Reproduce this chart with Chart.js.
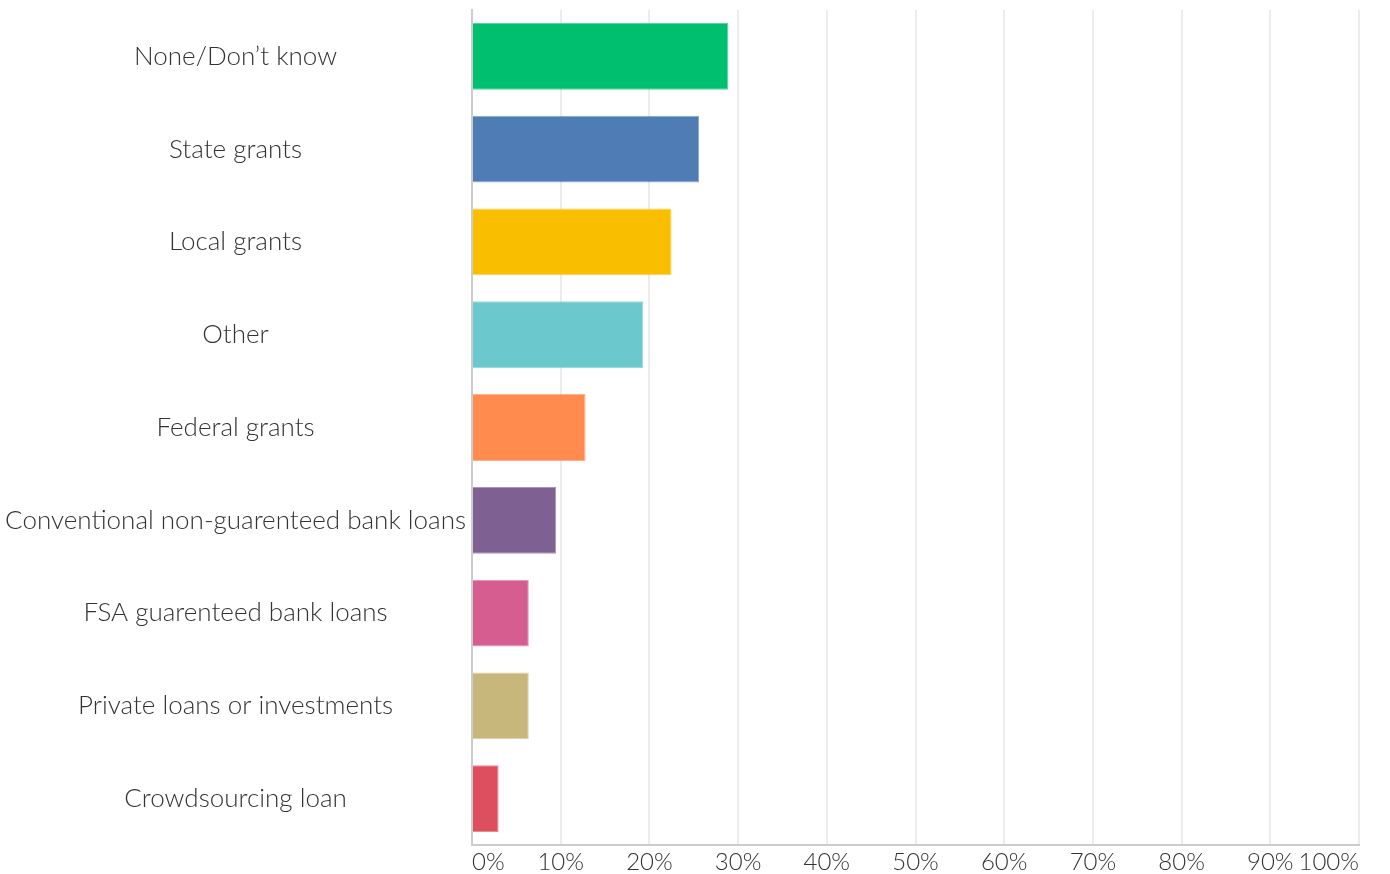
<!DOCTYPE html>
<html>
<head>
<meta charset="utf-8">
<script src="https://cdn.jsdelivr.net/npm/chart.js@4/dist/chart.umd.min.js"></script>
<style>
  html, body { margin: 0; padding: 0; background: #fff; }
  #wrap { width: 1390px; height: 874px; }
</style>
</head>
<body>
<div id="wrap"><canvas id="chart"></canvas></div>
<script>
const categories = [
  'None/Don\u2019t know',
  'State grants',
  'Local grants',
  'Other',
  'Federal grants',
  'Conventional non-guarenteed bank loans',
  'FSA guarenteed bank loans',
  'Private loans or investments',
  'Crowdsourcing loan'
];
const shares = [28.9, 25.6, 22.5, 19.3, 12.8, 9.5, 6.4, 6.4, 3.0];
const barColors = ['#00bf6f', '#507cb6', '#f9be00', '#6bc8cd', '#ff8b4f', '#7f6092', '#d65d90', '#c8b77a', '#dd4e5e'];
const xTicks = [0, 10, 20, 30, 40, 50, 60, 70, 80, 90, 100];

function initChart() {
  const ctx = document.getElementById('chart').getContext('2d');
  const fontFamily = 'Lato, "Open Sans", sans-serif';

  new Chart(ctx, {
    type: 'bar',
    data: {
      labels: categories,
      datasets: [{
        data: shares,
        backgroundColor: barColors,
        borderColor: barColors.map(c => c + 'aa'),
        borderWidth: 1,
        borderSkipped: 'left',
        barPercentage: 0.72,
        categoryPercentage: 1
      }]
    },
    options: {
      indexAxis: 'y',
      responsive: true,
      maintainAspectRatio: false,
      animation: false,
      layout: { padding: { top: 10, right: 31, left: 0, bottom: 0 } },
      plugins: { legend: { display: false }, tooltip: { enabled: false } },
      scales: {
        x: {
          min: 0,
          max: 100,
          afterBuildTicks: axis => { axis.ticks = xTicks.map(v => ({ value: v })); },
          afterFit: axis => { axis.height = 29; axis.paddingLeft = 0; axis.paddingRight = 0; },
          grid: { color: '#ececec', lineWidth: 2, drawTicks: false },
          border: { color: '#cccccc', width: 2 },
          ticks: {
            color: '#333333',
            font: { family: fontFamily, size: 24, weight: 300 },
            padding: 3,
            align: 'inner',
            maxRotation: 0,
            autoSkip: false,
            callback: v => v + '%'
          }
        },
        y: {
          afterFit: axis => { axis.width = 472; axis.paddingTop = 0; axis.paddingBottom = 0; },
          grid: { display: false, drawTicks: false },
          border: { color: '#cccccc', width: 2 },
          ticks: {
            color: '#333333',
            font: { family: fontFamily, size: 26, weight: 300 },
            padding: 6,
            crossAlign: 'center',
            autoSkip: false
          }
        }
      }
    }
  });
}

document.addEventListener('DOMContentLoaded', initChart);
</script>
</body>
</html>
